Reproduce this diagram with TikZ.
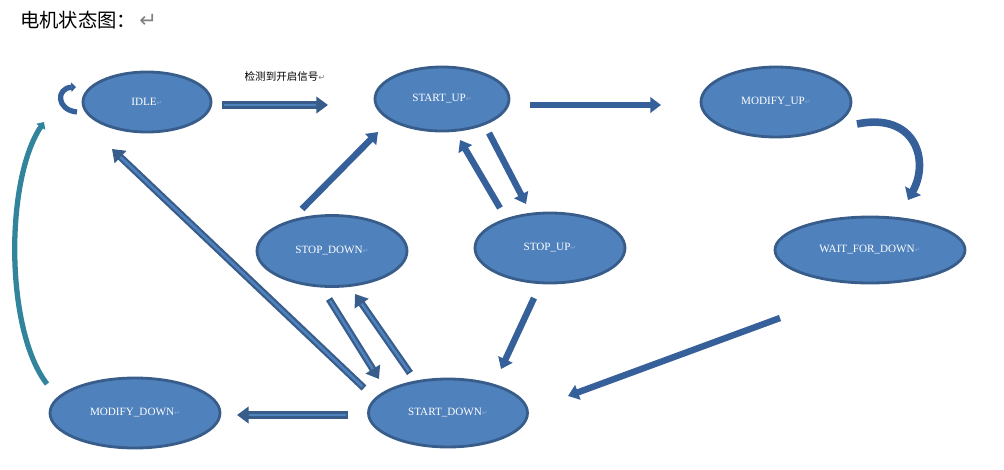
\documentclass[tikz,border=0pt]{standalone}
\usepackage{fontspec}
\setmainfont{Liberation Serif}
\newfontfamily\cjk{Noto Sans CJK SC}
\newfontfamily\symf{DejaVu Sans}
\usetikzlibrary{arrows.meta,shapes.geometric}
\definecolor{sfill}{HTML}{4F81BD}
\definecolor{sdark}{HTML}{385D8A}
\definecolor{adark}{HTML}{36609A}
\definecolor{teal}{HTML}{31849B}
\newcommand{\retmark}[2][gray]{{\symf\fontsize{#2}{#2}\selectfont\color{#1}↵}}
\tikzset{
  state/.style={ellipse, draw=sdark, line width=2.4pt, fill=sfill, inner sep=0pt,
    text=white, font=\fontsize{9.5}{10}\selectfont},
  blk/.style={line width=6pt, draw=sdark, -{Triangle[length=10pt,width=14pt]},
    postaction={draw=sfill, line width=2.2pt, -, shorten >=10pt, shorten <=1.8pt}},
  sol/.style={line width=5.5pt, draw=adark, -{Triangle[length=9pt,width=13pt]}}
}
\begin{document}
\begin{tikzpicture}[x=0.03cm, y=-0.03cm]
  \useasboundingbox (0,0) rectangle (1004,469);
  \node[anchor=west, inner sep=0pt] (title) at (20,20)
    {\cjk\fontsize{16.5}{18}\selectfont 电机状态图：\,\retmark{18}};

  \node[state, minimum width=3.84cm, minimum height=1.8cm]  (idle)    at (147,102) {IDLE\retmark[sfill!70!white]{6}};
  \node[state, minimum width=4.02cm, minimum height=1.92cm] (startup) at (442,99)  {START\_UP\retmark[sfill!70!white]{6}};
  \node[state, minimum width=4.5cm,  minimum height=2.1cm]  (modup)   at (776,102) {MODIFY\_UP\retmark[sfill!70!white]{6}};
  \node[state, minimum width=5.7cm,  minimum height=1.98cm] (wait)    at (870,250) {WAIT\_FOR\_DOWN\retmark[sfill!70!white]{6}};
  \node[state, minimum width=4.5cm,  minimum height=2.13cm] (stopdn)  at (332,251) {STOP\_DOWN\retmark[sfill!70!white]{6}};
  \node[state, minimum width=4.5cm,  minimum height=2.1cm]  (stopup)  at (550,248) {STOP\_UP\retmark[sfill!70!white]{6}};
  \node[state, minimum width=4.77cm, minimum height=2.04cm] (startdn) at (448,413) {START\_DOWN\retmark[sfill!70!white]{6}};
  \node[state, minimum width=5.1cm,  minimum height=2.1cm]  (moddn)   at (135,413) {MODIFY\_DOWN\retmark[sfill!70!white]{6}};

  \coordinate (a1) at (222,105); \coordinate (b1) at (328,105);
  \coordinate (a2) at (530,105); \coordinate (b2) at (661,105);
  \coordinate (a3) at (780,318); \coordinate (b3) at (568,396);
  \coordinate (a4) at (534,298); \coordinate (b4) at (501,369);
  \coordinate (a5) at (489,133); \coordinate (b5) at (526,204);
  \coordinate (a6) at (500,208); \coordinate (b6) at (460,140);
  \coordinate (a7) at (302,209); \coordinate (b7) at (378,132);
  \coordinate (a8) at (329,299); \coordinate (b8) at (379,379);
  \coordinate (a9) at (410,373); \coordinate (b9) at (355,294);
  \coordinate (a10) at (364,388); \coordinate (b10) at (112,149);
  \coordinate (a11) at (348,415); \coordinate (b11) at (237,415);

  \foreach \i in {1,8,9,10,11} \draw[blk] (a\i) -- (b\i);
  \foreach \i in {2,3,4,5,6,7} \draw[sol] (a\i) -- (b\i);

  \node[anchor=south, inner sep=1pt, font=\cjk\fontsize{9}{10}\selectfont] (sig) at (285,83) {检测到开启信号\retmark{7}};

  \coordinate (c1) at (857,124); \coordinate (c2) at (908,200);
  \draw[line width=6.5pt, draw=adark, -{Triangle[length=9pt,width=15pt]}]
    (c1) .. controls (915,112) and (930,160) .. (c2);

  \coordinate (d1) at (47,384); \coordinate (d2) at (44,122);
  \draw[line width=4.5pt, draw=teal, -{Triangle[length=5pt,width=9pt]}]
    (d1) .. controls (5,330) and (5,180) .. (d2);

  \coordinate (e1) at (77,112); \coordinate (e2) at (76,87);
  \draw[line width=4.5pt, draw=adark, -{Triangle[length=4pt,width=8pt]}]
    (e1) .. controls (56,110) and (56,88) .. (e2);
\end{tikzpicture}
\end{document}
